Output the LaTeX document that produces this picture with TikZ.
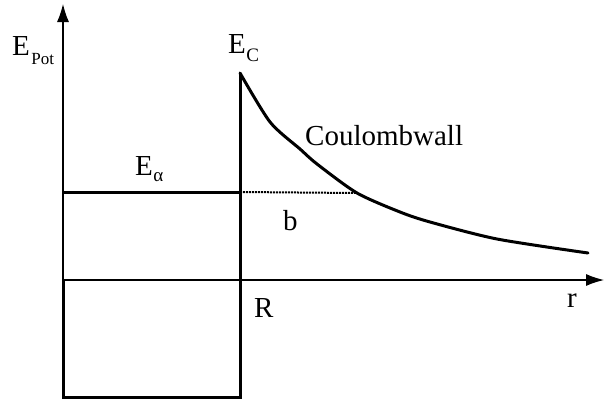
\documentclass[tikz,border=0pt]{standalone}
\usepackage{fontspec}
\setmainfont{Liberation Serif}
\usetikzlibrary{arrows.meta}
\tikzset{
  axis/.style={line width=1.1pt, -{Latex[length=18pt,width=12pt]}},
  thickline/.style={line width=3pt},
  lbl/.style={anchor=base west, inner sep=0pt, font=\fontsize{29}{29}\selectfont},
}
\begin{document}
\begin{tikzpicture}[x=1pt,y=-1pt]
\useasboundingbox (0,0) rectangle (604,399);
% coordinates
\coordinate (O) at (63,280);
\coordinate (ytop) at (63,4);
\coordinate (xend) at (604,280);
\coordinate (BL) at (63,397);
\coordinate (BR) at (240,397);
\coordinate (EC) at (240,73);
\coordinate (Ea0) at (63,192);
\coordinate (Ea1) at (240,192);
\coordinate (bpt) at (357,193);
% axes
\draw[axis] (O) -- (ytop);
\draw[axis] (O) -- (xend);
% well
\draw[thickline, line join=miter] (O) -- (BL) -- (BR) -- (EC);
% E alpha level
\draw[thickline] (Ea0) -- (Ea1);
\draw[line width=2pt, densely dotted] (Ea1) -- (bpt);
% Coulomb wall
\draw[thickline, line cap=round] plot[smooth, tension=0.45] coordinates {(240,73) (270,122) (300,149) (317,164) (357,193) (400,212) (430,222) (497,239) (588,253)};
% labels
\node[lbl] (lEpot) at (12,55) {E\kern1.5pt\raisebox{-9pt}{\fontsize{17}{17}\selectfont Pot}};
\node[lbl] (lEc) at (228,53) {E\kern0.5pt\raisebox{-8pt}{\fontsize{19}{19}\selectfont C}};
\node[lbl] (lEa) at (135,175) {E\kern0.5pt\raisebox{-6pt}{\fontsize{19}{19}\selectfont α}};
\node[lbl] (lCw) at (305,145) {Coulombwall};
\node[lbl] (lb) at (283,230) {b};
\node[lbl] (lR) at (254,317) {R};
\node[lbl] (lr) at (567,307) {r};
\end{tikzpicture}
\end{document}
